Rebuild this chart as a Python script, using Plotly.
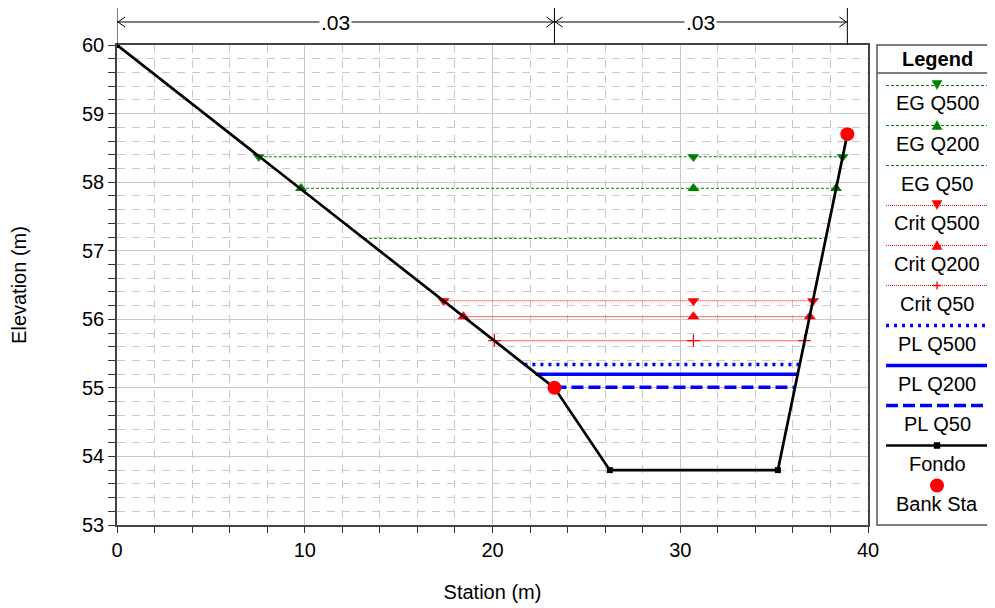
import plotly.graph_objects as go

# ---------------- data ----------------
fondo_x = [0, 23.3, 26.25, 35.2, 38.9]
fondo_y = [60.0, 55.0, 53.8, 53.8, 58.7]
bank_x = [23.3, 38.9]
bank_y = [55.0, 58.7]
mannings_n = [".03", ".03"]

eg_q500_x = [7.55, 30.7, 38.65]; eg_q500_y = 58.37
eg_q200_x = [9.8, 30.7, 38.3];   eg_q200_y = 57.91
eg_q50_x = [13.15, 37.75];       eg_q50_y = 57.18
crit_q500_x = [17.4, 30.7, 37.07]; crit_q500_y = 56.27
crit_q200_x = [18.45, 30.7, 36.9]; crit_q200_y = 56.04
crit_q50_x = [20.1, 30.7, 36.62];  crit_q50_y = 55.69
pl_q500_x = [21.7, 36.35]; pl_q500_y = 55.34
pl_q200_x = [22.3, 36.3];  pl_q200_y = 55.20
pl_q50_x = [23.3, 36.15];  pl_q50_y = 55.01

FONT = "Liberation Sans, Arial, sans-serif"
FS = 20
GREEN = "#008000"
RED = "#ff0000"
BLUE = "#0000ff"

fig = go.Figure()

def ws(xs, y, color, dash, width, symbol=None, msize=10.5):
    mode = "lines+markers" if symbol else "lines"
    fig.add_trace(go.Scatter(
        x=xs, y=[y] * len(xs), mode=mode,
        line=dict(color=color, dash=dash, width=width),
        marker=dict(symbol=symbol, size=msize, color=color,
                    line=dict(width=1.3 if symbol == "cross-thin" else 0, color=color)) if symbol else None,
        showlegend=False, hoverinfo="skip"))

ws(eg_q500_x, eg_q500_y, GREEN, "3px,2px", 1, "triangle-down")
ws(eg_q200_x, eg_q200_y, GREEN, "3px,2px", 1, "triangle-up")
ws(eg_q50_x, eg_q50_y, GREEN, "3px,2px", 1)
ws(crit_q500_x, crit_q500_y, RED, "1px,1px", 1.2, "triangle-down")
ws(crit_q200_x, crit_q200_y, RED, "1px,1px", 1.2, "triangle-up")
ws(crit_q50_x, crit_q50_y, RED, "1px,1px", 1.2, "cross-thin", 9)
ws(pl_q500_x, pl_q500_y, BLUE, "3px,5px", 3.5)
ws(pl_q200_x, pl_q200_y, BLUE, "solid", 3.5)
ws(pl_q50_x, pl_q50_y, BLUE, "12px,5px", 3.5)

fig.add_trace(go.Scatter(x=fondo_x, y=fondo_y, mode="lines+markers",
                         line=dict(color="black", width=2.7),
                         marker=dict(symbol="square", size=6, color="black"),
                         showlegend=False, hoverinfo="skip"))
fig.add_trace(go.Scatter(x=bank_x, y=bank_y, mode="markers",
                         marker=dict(symbol="circle", size=14, color=RED),
                         showlegend=False, hoverinfo="skip"))

# ---------------- geometry (page has an 8px body margin) ----------------
OFF = 8
W, H = 995 - OFF, 608 - OFF
PL_, PR_, PT_, PB_ = 117, 868, 45, 525          # plot area in window pixels
L = PL_ - OFF
T = PT_ - OFF
PW, PH = PR_ - PL_, PB_ - PT_
R = W - L - PW
B = H - T - PH
def px(x):
    return (x - PL_) / PW
def py(y):
    return 1 - (y - PT_) / PH

shapes = []
annotations = []

# ---------------- Manning's n bars above plot ----------------
n_edges = [fondo_x[0]] + bank_x
for xe in n_edges:
    shapes.append(dict(type="line", xref="x", yref="paper", x0=xe, x1=xe,
                       y0=1, y1=py(OFF), line=dict(color="black", width=1)))
ya = py(22)
for i in range(len(n_edges) - 1):
    a, b = n_edges[i], n_edges[i + 1]
    shapes.append(dict(type="line", xref="x", yref="paper", x0=a, x1=b,
                       y0=ya, y1=ya, line=dict(color="black", width=1)))
    shapes.append(dict(type="path", xref="x", yref="paper", xsizemode="pixel",
                       ysizemode="pixel", xanchor=a, yanchor=ya,
                       path="M 8 5 L 1 0 L 8 -5", line=dict(color="black", width=1)))
    shapes.append(dict(type="path", xref="x", yref="paper", xsizemode="pixel",
                       ysizemode="pixel", xanchor=b, yanchor=ya,
                       path="M -8 5 L -1 0 L -8 -5", line=dict(color="black", width=1)))
    annotations.append(dict(x=(a + b) / 2, y=ya, xref="x", yref="paper",
                            text=mannings_n[i], showarrow=False, bgcolor="white",
                            font=dict(family=FONT, size=21, color="black"),
                            xanchor="center", yanchor="middle", borderpad=1))

# ---------------- custom legend ----------------
LX0, LX1 = 877, 1000
shapes.append(dict(type="rect", xref="paper", yref="paper", x0=px(LX0), x1=px(LX1),
                   y0=py(525), y1=py(45), line=dict(color="#555", width=1.5)))
shapes.append(dict(type="line", xref="paper", yref="paper", x0=px(LX0), x1=px(LX1),
                   y0=py(73), y1=py(73), line=dict(color="#555", width=1.5)))
annotations.append(dict(x=px(937), y=py(59), xref="paper", yref="paper",
                        text="<b>Legend</b>", showarrow=False,
                        font=dict(family=FONT, size=FS, color="black"),
                        xanchor="center", yanchor="middle"))

legend_items = [
    ("EG Q500", GREEN, "3px,2px", 1, "tri_down", GREEN),
    ("EG Q200", GREEN, "3px,2px", 1, "tri_up", GREEN),
    ("EG Q50", GREEN, "3px,2px", 1, None, None),
    ("Crit Q500", RED, "1px,1px", 1.2, "tri_down", RED),
    ("Crit Q200", RED, "1px,1px", 1.2, "tri_up", RED),
    ("Crit Q50", RED, "1px,1px", 1.2, "plus", RED),
    ("PL Q500", BLUE, "3px,5px", 3.5, None, None),
    ("PL Q200", BLUE, "solid", 3.5, None, None),
    ("PL Q50", BLUE, "12px,5px", 3.5, None, None),
    ("Fondo", "black", "solid", 2.7, "square", "black"),
    ("Bank Sta", None, None, 0, "circle", RED),
]
paths = {
    "tri_down": "M -5 5 L 5 5 L 0 -4 Z",
    "tri_up": "M -5 -4 L 5 -4 L 0 5 Z",
    "square": "M -3 -3 L 3 -3 L 3 3 L -3 3 Z",
}
cx = 937
for k, (name, lc, dash, lw, mk, mc) in enumerate(legend_items):
    yl = 85.5 + 40 * k
    yt = 103.5 + 40 * k
    if lc is not None:
        shapes.append(dict(type="line", xref="paper", yref="paper", x0=px(886), x1=px(987),
                           y0=py(yl), y1=py(yl), line=dict(color=lc, width=lw, dash=dash)))
    if mk in paths:
        shapes.append(dict(type="path", xref="paper", yref="paper", xsizemode="pixel",
                           ysizemode="pixel", xanchor=px(cx), yanchor=py(yl),
                           path=paths[mk], fillcolor=mc, line=dict(color=mc, width=0.5)))
    elif mk == "plus":
        shapes.append(dict(type="path", xref="paper", yref="paper", xsizemode="pixel",
                           ysizemode="pixel", xanchor=px(cx), yanchor=py(yl),
                           path="M -4 0 L 4 0 M 0 -4 L 0 4", line=dict(color=mc, width=1.3)))
    elif mk == "circle":
        shapes.append(dict(type="circle", xref="paper", yref="paper", xsizemode="pixel",
                           ysizemode="pixel", xanchor=px(cx), yanchor=py(yl),
                           x0=-7, x1=7, y0=-7, y1=7, fillcolor=mc, line=dict(color=mc, width=0)))
    annotations.append(dict(x=px(cx), y=py(yt), xref="paper", yref="paper", text=name,
                            showarrow=False, font=dict(family=FONT, size=FS, color="black"),
                            xanchor="center", yanchor="middle"))

GRID = "#c8c8c8"
fig.update_layout(
    width=W, height=H,
    margin=dict(l=L, r=R, t=T, b=B, autoexpand=False),
    paper_bgcolor="white", plot_bgcolor="white",
    font=dict(family=FONT, size=FS, color="black"),
    shapes=shapes, annotations=annotations,
    showlegend=False,
    xaxis=dict(range=[0, 40], tick0=0, dtick=10, showgrid=True, gridcolor=GRID, gridwidth=1,
               ticks="outside", ticklen=6, tickcolor="#333", tickwidth=1,
               showline=True, linecolor="#444", linewidth=1.5, mirror=True, zeroline=False,
               minor=dict(dtick=2, showgrid=True, gridcolor=GRID, griddash="8px,7px",
                          ticks="outside", ticklen=6, tickcolor="#333"),
               tickfont=dict(size=FS),
               title=dict(text="Station (m)", standoff=25, font=dict(size=FS))),
    yaxis=dict(range=[53, 60], tick0=53, dtick=1, showgrid=True, gridcolor=GRID, gridwidth=1,
               ticks="outside", ticklen=7, tickcolor="#333", tickwidth=1,
               showline=True, linecolor="#444", linewidth=1.5, mirror=True, zeroline=False,
               minor=dict(dtick=0.2, showgrid=True, gridcolor=GRID, griddash="8px,7px",
                          ticks="outside", ticklen=7, tickcolor="#333"),
               tickfont=dict(size=FS),
               title=dict(text="Elevation (m)", standoff=50, font=dict(size=FS))),
)

fig.write_html("out.html")
